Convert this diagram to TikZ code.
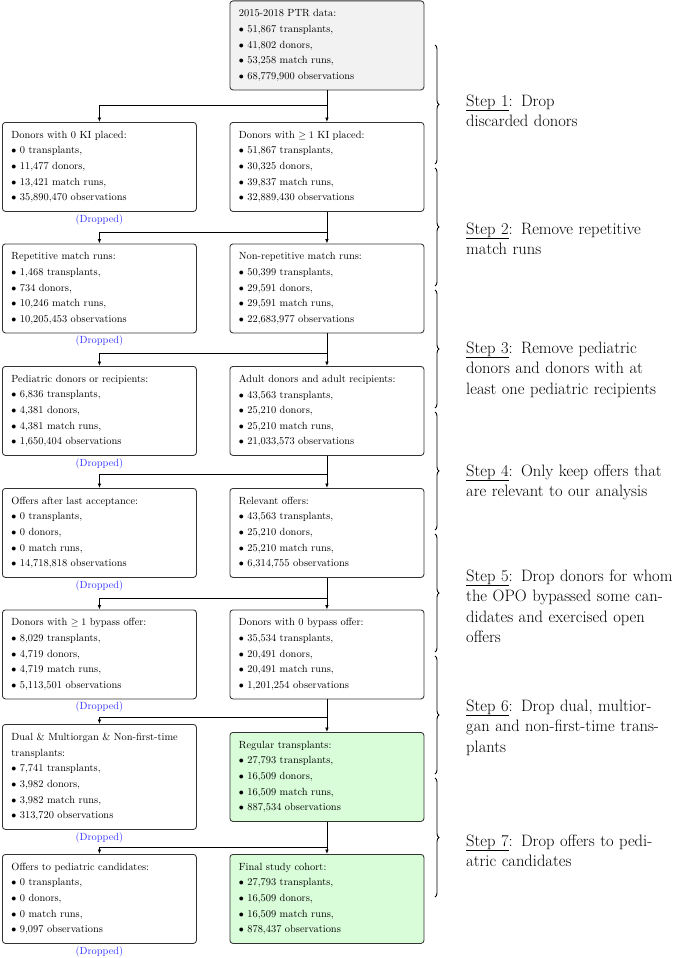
\documentclass[tikz,border=0pt]{standalone}
\usetikzlibrary{arrows.meta,decorations.pathreplacing}
\definecolor{boxborder}{RGB}{50,50,50}
\definecolor{greenfill}{RGB}{217,252,217}
\definecolor{grayfill}{RGB}{242,242,242}
\definecolor{dropblue}{RGB}{50,50,255}
\begin{document}
\begin{tikzpicture}[x=1pt,y=-1pt,
  box/.style={draw=boxborder, rounded corners=3pt, line width=0.85pt, anchor=north west,
    minimum width=194pt, minimum height=89pt, text width=176pt, inner xsep=9pt, inner ysep=0pt,
    align=left, font=\fontsize{10.4}{15.6}\selectfont},
  dropped/.style={text=dropblue, font=\fontsize{10.4}{12}\selectfont, inner sep=0pt},
  conn/.style={line width=0.8pt, -{Latex[length=4.5pt,width=3.6pt]}},
  brc/.style={line width=0.9pt, decorate, decoration={brace, amplitude=4pt}},
  steptext/.style={anchor=north west, inner sep=0pt, text width=215pt, align=left,
    font=\fontsize{16.5}{20.5}\selectfont}]
\useasboundingbox (0,0) rectangle (672,958);
\newcommand{\bl}{$\bullet$ }
% row 0
\node[box, fill=grayfill] (r0) at (229.5,0.5) {2015-2018 PTR data:\\ \bl 51,867 transplants,\\ \bl 41,802 donors,\\ \bl 53,258 match runs,\\ \bl 68,779,900 observations};
% row 1
\node[box] (l1) at (2,122) {Donors with 0 KI placed:\\ \bl 0 transplants,\\ \bl 11,477 donors,\\ \bl 13,421 match runs,\\ \bl 35,890,470 observations};
\node[box] (r1) at (229.5,122) {Donors with $\geq 1$ KI placed:\\ \bl 51,867 transplants,\\ \bl 30,325 donors,\\ \bl 39,837 match runs,\\ \bl 32,889,430 observations};
% row 2
\node[box] (l2) at (2,243.5) {Repetitive match runs:\\ \bl 1,468 transplants,\\ \bl 734 donors,\\ \bl 10,246 match runs,\\ \bl 10,205,453 observations};
\node[box] (r2) at (229.5,243.5) {Non-repetitive match runs:\\ \bl 50,399 transplants,\\ \bl 29,591 donors,\\ \bl 29,591 match runs,\\ \bl 22,683,977 observations};
% row 3
\node[box] (l3) at (2,366) {Pediatric donors or recipients:\\ \bl 6,836 transplants,\\ \bl 4,381 donors,\\ \bl 4,381 match runs,\\ \bl 1,650,404 observations};
\node[box] (r3) at (229.5,366) {Adult donors and adult recipients:\\ \bl 43,563 transplants,\\ \bl 25,210 donors,\\ \bl 25,210 match runs,\\ \bl 21,033,573 observations};
% row 4
\node[box] (l4) at (2,488) {Offers after last acceptance:\\ \bl 0 transplants,\\ \bl 0 donors,\\ \bl 0 match runs,\\ \bl 14,718,818 observations};
\node[box] (r4) at (229.5,488) {Relevant offers:\\ \bl 43,563 transplants,\\ \bl 25,210 donors,\\ \bl 25,210 match runs,\\ \bl 6,314,755 observations};
% row 5
\node[box] (l5) at (2,609.5) {Donors with $\geq 1$ bypass offer:\\ \bl 8,029 transplants,\\ \bl 4,719 donors,\\ \bl 4,719 match runs,\\ \bl 5,113,501 observations};
\node[box] (r5) at (229.5,609.5) {Donors with 0 bypass offer:\\ \bl 35,534 transplants,\\ \bl 20,491 donors,\\ \bl 20,491 match runs,\\ \bl 1,201,254 observations};
% row 6
\node[box, minimum height=105pt] (l6) at (2,724) {Dual \& Multiorgan \& Non-first-time\\ transplants:\\ \bl 7,741 transplants,\\ \bl 3,982 donors,\\ \bl 3,982 match runs,\\ \bl 313,720 observations};
\node[box, fill=greenfill] (r6) at (229.5,732) {Regular transplants:\\ \bl 27,793 transplants,\\ \bl 16,509 donors,\\ \bl 16,509 match runs,\\ \bl 887,534 observations};
% row 7
\node[box] (l7) at (2,854) {Offers to pediatric candidates:\\ \bl 0 transplants,\\ \bl 0 donors,\\ \bl 0 match runs,\\ \bl 9,097 observations};
\node[box, fill=greenfill] (r7) at (229.5,854) {Final study cohort:\\ \bl 27,793 transplants,\\ \bl 16,509 donors,\\ \bl 16,509 match runs,\\ \bl 878,437 observations};
% dropped labels
\foreach \n in {1,...,7}{
  \node[dropped] (d\n) at ([yshift=-8pt]l\n.south) {(Dropped)};
}
% junctions
\coordinate (j1) at (326.5,105);
\coordinate (j2) at (326.5,232);
\coordinate (j3) at (326.5,353);
\coordinate (j4) at (326.5,474.5);
\coordinate (j5) at (326.5,598);
\coordinate (j6) at (326.5,717);
\coordinate (j7) at (326.5,847);
% connectors
\draw[conn] (r0.south) -- (r1.north);
\draw[conn] (r1.south) -- (r2.north);
\draw[conn] (r2.south) -- (r3.north);
\draw[conn] (r3.south) -- (r4.north);
\draw[conn] (r4.south) -- (r5.north);
\draw[conn] (r5.south) -- (r6.north);
\draw[conn] (r6.south) -- (r7.north);
\draw[conn] (j1) -| (l1.north);
\draw[conn] (j2) -| (l2.north);
\draw[conn] (j3) -| (l3.north);
\draw[conn] (j4) -| (l4.north);
\draw[conn] (j5) -| (l5.north);
\draw[conn] (j6) -| (l6.north);
\draw[conn] (j7) -| (l7.north);
% braces
\draw[brc] (435,45) -- (435,164);
\draw[brc] (435,168) -- (435,286);
\draw[brc] (435,290) -- (435,408);
\draw[brc] (435,412) -- (435,530);
\draw[brc] (435,534) -- (435,652);
\draw[brc] (435,656) -- (435,774);
\draw[brc] (435,778) -- (435,897);
% step texts
\node[steptext] (s1) at (466,91.5) {\strut\underline{Step 1}: Drop\\ discarded donors};
\node[steptext] (s2) at (466,219.5) {\strut\underline{Step 2}: Remove repetitive\\ match runs};
\node[steptext] (s3) at (466,338.5) {\strut\underline{Step 3}: Remove pediatric\\ donors and donors with at\\ least one pediatric recipients};
\node[steptext] (s4) at (466,461.5) {\strut\underline{Step 4}: Only keep offers that\\ are relevant to our analysis};
\node[steptext] (s5) at (466,566.5) {\strut\underline{Step 5}: Drop donors for whom\\ the OPO bypassed some can-\\ didates and exercised open\\ offers};
\node[steptext] (s6) at (466,696.5) {\strut\underline{Step 6}: Drop dual, multior-\\ gan and non-first-time trans-\\ plants};
\node[steptext] (s7) at (466,831.5) {\strut\underline{Step 7}: Drop offers to pedi-\\ atric candidates};
\end{tikzpicture}
\end{document}
